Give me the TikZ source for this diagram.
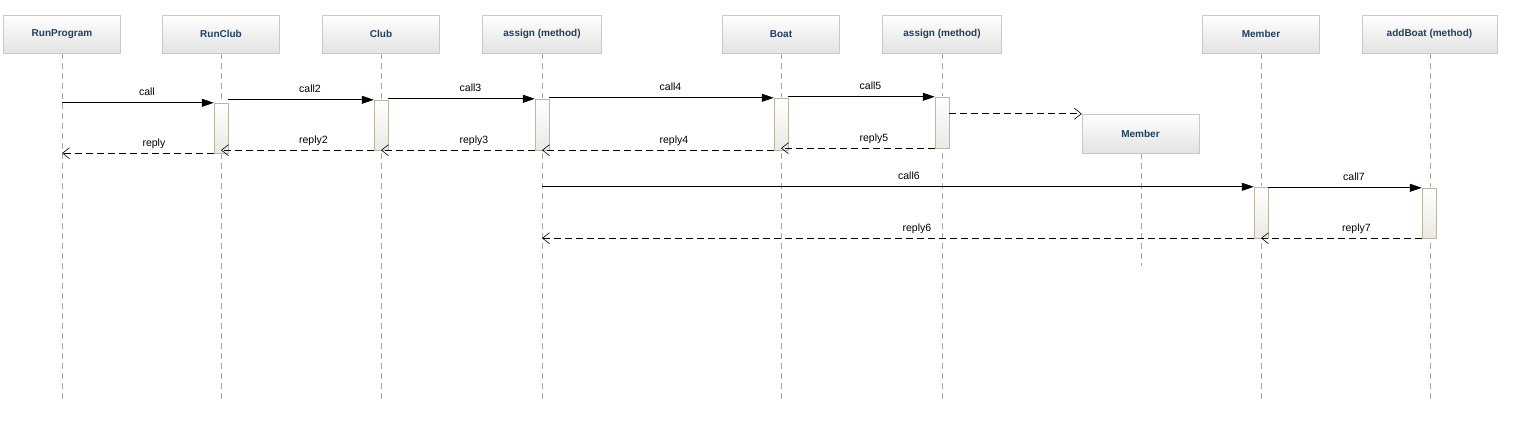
\documentclass[tikz,border=0pt]{standalone}
\usepackage{fontspec}
\setmainfont{Liberation Sans}
\usetikzlibrary{arrows.meta}
\definecolor{headtxt}{HTML}{1F3F5F}
\definecolor{headdraw}{HTML}{C8C8C8}
\definecolor{actdraw}{HTML}{BDB5A3}
\definecolor{lifec}{HTML}{A8A8A8}
\tikzset{
  head/.style={draw=headdraw, top color=white, bottom color=black!11, minimum width=117pt, minimum height=38pt, inner sep=0pt, font=\fontsize{10}{12}\selectfont\bfseries, text=headtxt},
  act/.style={draw=actdraw, top color=white, bottom color=actdraw!30, minimum width=14pt, inner sep=0pt},
  life/.style={draw=lifec, dash pattern=on 6pt off 4pt, line width=0.7pt},
  callmsg/.style={draw=black, line width=0.8pt, -{Triangle[length=12pt,width=8pt]}},
  replymsg/.style={draw=black, line width=0.8pt, dash pattern=on 7pt off 4pt, -{Straight Barb[length=7pt,width=11pt,line width=0.6pt]}},
  lbl/.style={midway, anchor=base, yshift=7pt, font=\fontsize{10.5}{12}\selectfont, inner sep=0pt}
}
\begin{document}
\begin{tikzpicture}[x=1pt,y=-1pt]
\useasboundingbox (0,0) rectangle (1516,435);
% lifelines
\foreach \n/\x in {1/62,2/221,3/381,4/542,5/781,6/942,7/1261,8/1430}{
  \coordinate (e\n) at (\x,400);
}
\draw[life] (62,53) -- (e1);
\draw[life] (221,53) -- (e2);
\draw[life] (381,53) -- (e3);
\draw[life] (542,53) -- (e4);
\draw[life] (781,53) -- (e5);
\draw[life] (942,53) -- (e6);
\draw[life] (1261,53) -- (e7);
\draw[life] (1430,53) -- (e8);
\coordinate (em) at (1141,266);
\draw[life] (1141,153) -- (em);
% heads
\node[head] (h1) at (62,34) {RunProgram};
\node[head] (h2) at (221,34) {RunClub};
\node[head] (h3) at (381,34) {Club};
\node[head, minimum width=119pt] (h4) at (542,34) {assign (method)};
\node[head] (h5) at (781,34) {Boat};
\node[head, minimum width=119pt] (h6) at (942,34) {assign (method)};
\node[head] (h7) at (1261,34) {Member};
\node[head, minimum width=135pt] (h8) at (1429.5,34) {addBoat (method)};
\node[head, minimum height=39pt] (m) at (1140.5,133.5) {Member};
% activations
\node[act, minimum height=50pt] (a2) at (221,128) {};
\node[act, minimum height=50pt] (a3) at (381,125) {};
\node[act, minimum height=51pt] (a4) at (542,124.5) {};
\node[act, minimum height=52pt] (a5) at (781,124) {};
\node[act, minimum height=51pt] (a6) at (942,122.5) {};
\node[act, minimum height=51pt] (a7) at (1261,212.5) {};
\node[act, minimum height=50pt] (a8) at (1429,213) {};
% calls
\draw[callmsg] (h1 |- a2.north) -- (a2.north west) node[lbl, xshift=9pt] {call};
\draw[callmsg] (a2.east |- a3.north) -- (a3.north west) node[lbl, xshift=9pt] {call2};
\draw[callmsg] (a3.east |- a4.north) -- (a4.north west) node[lbl, xshift=9pt] {call3};
\draw[callmsg] (a4.east |- a5.north) -- (a5.north west) node[lbl, xshift=9pt] {call4};
\draw[callmsg] (a5.east |- a6.north) -- (a6.north west) node[lbl, xshift=9pt] {call5};
\draw[replymsg] (a6.east |- m.north west) -- (m.north west);
\draw[callmsg] (h4 |- a7.north) -- (a7.north west) node[lbl, xshift=11pt] {call6};
\draw[callmsg] (a7.east |- a8.north) -- (a8.north west) node[lbl, xshift=9pt] {call7};
% replies
\draw[replymsg] (a6.south west) -- (h5 |- a6.south) node[lbl, xshift=16pt] {reply5};
\draw[replymsg] (a5.south west) -- (h4 |- a5.south) node[lbl, xshift=16pt] {reply4};
\draw[replymsg] (a4.south west) -- (h3 |- a4.south) node[lbl, xshift=16pt] {reply3};
\draw[replymsg] (a3.south west) -- (h2 |- a3.south) node[lbl, xshift=16pt] {reply2};
\draw[replymsg] (a2.south west) -- (h1 |- a2.south) node[lbl, xshift=16pt] {reply};
\draw[replymsg] (a8.south west) -- (h7 |- a8.south) node[lbl, xshift=15pt] {reply7};
\draw[replymsg] (a7.south west) -- (h4 |- a7.south) node[lbl, xshift=19pt] {reply6};
\end{tikzpicture}
\end{document}
